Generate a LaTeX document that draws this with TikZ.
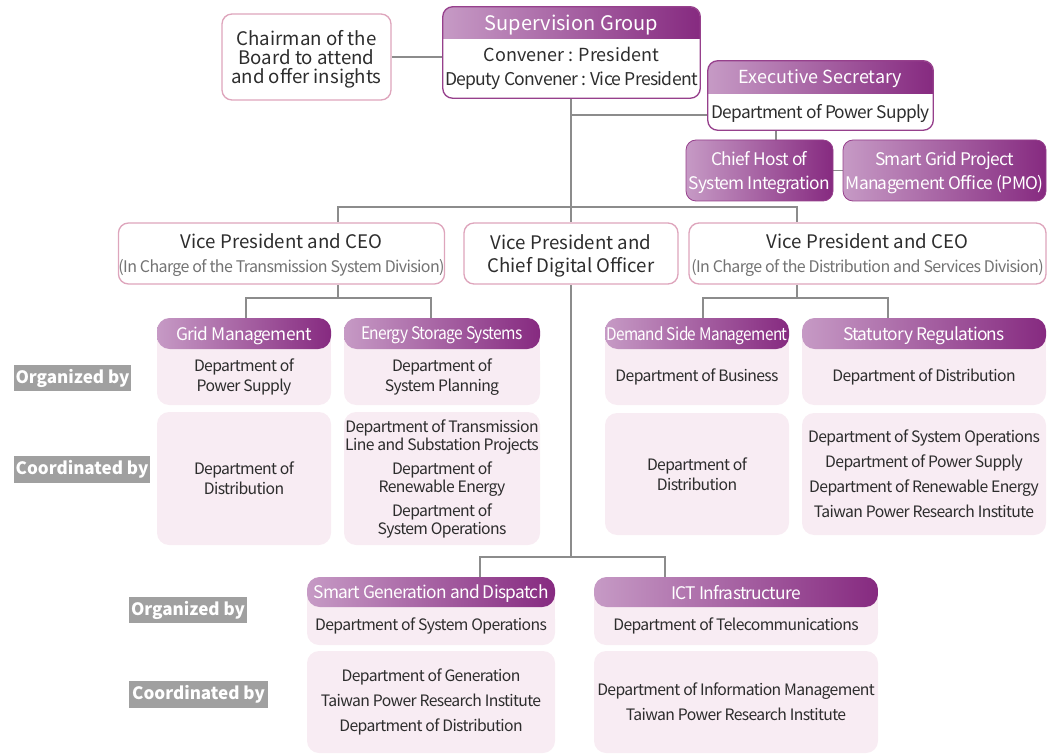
\documentclass[tikz,border=0pt]{standalone}
\usepackage{fontspec}
\setmainfont{Noto Sans CJK SC}
\newfontfamily\tightf{Noto Sans CJK SC}[LetterSpace=-4]
\usetikzlibrary{backgrounds,calc}
\definecolor{gL}{RGB}{198,154,197}
\definecolor{gR}{RGB}{134,42,128}
\definecolor{pinkb}{RGB}{222,165,188}
\definecolor{purpb}{RGB}{150,64,140}
\definecolor{pale}{RGB}{248,236,243}
\definecolor{labc}{RGB}{160,160,160}
\definecolor{ln}{RGB}{140,140,140}
\definecolor{txt}{RGB}{45,45,45}
\definecolor{subc}{RGB}{115,115,115}
\newcommand\fsz[2]{\fontsize{#1}{#2}\selectfont}
\newcommand\hsq[2]{\scalebox{#1}[1]{#2}}
\begin{document}
\begin{tikzpicture}[x=0.75pt,y=-0.75pt,
  r/.style n args={4}{at={($(#1,#2)!0.5!(#3,#4)$)}, minimum width={(#3-#1)*0.75pt}, minimum height={(#4-#2)*0.75pt}},
  line/.style={draw=ln, line width=1.1pt},
  pinkbox/.style={draw=pinkb, line width=1pt, fill=white, rounded corners=7.5pt, inner sep=0pt, align=center, text=txt, text depth=0pt},
  hdr/.style={left color=gL, right color=gR, rounded corners=9.5pt, inner sep=0pt, text=white, align=center, text depth=0pt, font=\tightf\fsz{13pt}{15pt}},
  hdrtop/.style={left color=gL, right color=gR, rounded corners=7.5pt, inner sep=0pt, text=white, align=center, text depth=0pt},
  body/.style={fill=pale, rounded corners=9pt, inner sep=0pt, align=center, text=txt, font=\tightf\fsz{11.8pt}{15pt}},
  lab/.style={fill=labc, text=white, inner sep=0pt, font=\bfseries\fsz{12.8pt}{14pt}},
  plain/.style={inner sep=0pt, align=center, text=txt}
]
\useasboundingbox (0,0) rectangle (1055,755);

% ---- top ----
\node[pinkbox, r={222}{14}{391}{100}, font=\fsz{14pt}{14.25pt}] (chair) {Chairman of the\\Board to attend\\and offer insights};

\node[hdrtop, r={443}{7}{700}{38}, font=\fsz{15pt}{16pt}] (suph) {Supervision Group};
\node[plain, r={443}{38}{700}{98}, font=\fsz{13.5pt}{18pt}] (sup) {Convener : President\\{\tightf\fsz{13.2pt}{18pt}Deputy Convener : Vice President}};
\draw[purpb, line width=1pt, rounded corners=7.5pt] (suph.north west) rectangle (sup.south east);

\node[hdrtop, r={708}{61}{933}{93}, font=\fsz{13.5pt}{15pt}] (sech) {Executive Secretary};
\node[plain, r={708}{93}{933}{130}, text depth=0pt, font=\tightf\fsz{13pt}{15pt}] (sec) {Department of Power Supply};
\draw[purpb, line width=1pt, rounded corners=7.5pt] (sech.north west) rectangle (sec.south east);

\node[hdrtop, draw=purpb, line width=0.6pt, r={686}{140}{833}{201}, font=\tightf\fsz{13pt}{18pt}] (host) {Chief Host of\\System Integration};
\node[hdrtop, draw=purpb, line width=0.6pt, r={843}{140}{1046}{201}, font=\tightf\fsz{13pt}{18pt}] (pmo) {Smart Grid Project\\Management Office (PMO)};

\begin{scope}[on background layer]
  \shade[left color=gL, right color=gR] ($(suph.south west)+(0,-10)$) rectangle (suph.south east);
  \shade[left color=gL, right color=gR] ($(sech.south west)+(0,-10)$) rectangle (sech.south east);
\end{scope}

% ---- vice presidents ----
\node[pinkbox, r={119}{223}{444}{284}, font=\fsz{14pt}{18pt}] (vpL) {Vice President and CEO\\{\color{subc}\tightf\fsz{12pt}{18pt}(In Charge of the Transmission System Division)}};
\node[pinkbox, r={464}{223}{678}{284}, font=\fsz{14pt}{17.5pt}] (vpC) {Vice President and\\Chief Digital Officer};
\node[pinkbox, r={689}{223}{1046}{284}, font=\fsz{14pt}{18pt}] (vpR) {Vice President and CEO\\{\color{subc}\tightf\fsz{12pt}{18pt}(In Charge of the Distribution and Services Division)}};

% ---- left / right groups ----
\node[body, r={157}{349}{331}{405}] (gmO) {Department of\\Power Supply};
\node[body, r={344}{349}{540}{405}] (esO) {Department of\\System Planning};
\node[body, r={605}{349}{789}{405}] (dsO) {Department of Business};
\node[body, r={802}{349}{1046}{405}] (srO) {Department of Distribution};
\node[body, r={307}{607}{555}{645}] (sgO) {Department of System Operations};
\node[body, r={594}{607}{878}{645}] (icO) {Department of Telecommunications};

\begin{scope}[on background layer]
  \foreach \n in {gmO,esO,dsO,srO,sgO,icO}
    \fill[pale] ($(\n.north west)+(0,-16)$) rectangle ($(\n.north east)+(0,12)$);
\end{scope}

\node[hdr, r={157}{318}{331}{349}] (gm) {Grid Management};
\node[hdr, r={344}{318}{540}{349}] (es) {\hsq{0.9}{Energy Storage Systems}};
\node[hdr, r={605}{318}{789}{349}] (ds) {\hsq{0.885}{Demand Side Management}};
\node[hdr, r={802}{318}{1046}{349}] (sr) {Statutory Regulations};
\node[hdr, r={307}{577}{555}{607}] (sg) {Smart Generation and Dispatch};
\node[hdr, r={594}{577}{878}{607}] (ic) {ICT Infrastructure};

\node[body, r={157}{412}{331}{545}] (gmC) {Department of\\Distribution};
\node[body, r={344}{412}{540}{545}, font=\tightf\fsz{11.8pt}{13.5pt}] (esC) {Department of Transmission\\Line and Substation Projects\\[4.5pt]Department of\\Renewable Energy\\[4.5pt]Department of\\System Operations};
\node[body, r={605}{413}{789}{535}] (dsC) {Department of\\Distribution};
\node[body, r={802}{413}{1046}{535}, font=\tightf\fsz{11.8pt}{18.8pt}] (srC) {Department of System Operations\\Department of Power Supply\\Department of Renewable Energy\\Taiwan Power Research Institute};
\node[body, r={307}{651}{555}{753}, font=\tightf\fsz{11.8pt}{18.8pt}] (sgC) {Department of Generation\\Taiwan Power Research Institute\\Department of Distribution};
\node[body, r={594}{651}{878}{753}, font=\tightf\fsz{11.8pt}{18.8pt}] (icC) {Department of Information Management\\Taiwan Power Research Institute};

% ---- labels ----
\node[lab, r={14}{365}{131}{391}] (org1) {Organized by};
\node[lab, r={14}{456}{150}{483}] (coo1) {Coordinated by};
\node[lab, r={129}{597}{247}{623}] (org2) {Organized by};
\node[lab, r={129}{681}{268}{708}] (coo2) {Coordinated by};

% ---- connectors ----
\coordinate (t1) at (571,115);
\coordinate (barL) at (338,207);
\coordinate (barR) at (797,207);
\coordinate (hx) at (776,135);
\coordinate (lb) at (338,298);
\coordinate (gx) at (246,298);
\coordinate (ex) at (431,298);
\coordinate (rb) at (797,298);
\coordinate (dx) at (703,298);
\coordinate (sx) at (888,298);
\coordinate (bt) at (571,557);
\coordinate (bx1) at (480,557);
\coordinate (bx2) at (665,557);

\begin{scope}[on background layer]
\draw[line] (chair.east) -- (chair.east -| sup.west);
\draw[line] (sup.south -| t1) -- (vpC.north -| t1);
\draw[line] (t1) -- (t1 -| sec.west);
\draw[line] (sec.south -| hx) -- (host.north -| hx);
\draw[line] (host.east) -- (pmo.west);
\draw[line] (barL |- vpL.north) -- (barL) -- (barR) -- (barR |- vpR.north);
\draw[line] (vpL.south -| lb) -- (lb);
\draw[line] (gx |- gm.north) -- (gx) -- (ex) -- (ex |- es.north);
\draw[line] (vpR.south -| rb) -- (rb);
\draw[line] (dx |- ds.north) -- (dx) -- (sx) -- (sx |- sr.north);
\draw[line] (vpC.south -| bt) -- (bt);
\draw[line] (bx1 |- sg.north) -- (bx1) -- (bx2) -- (bx2 |- ic.north);
\end{scope}
\end{tikzpicture}
\end{document}
